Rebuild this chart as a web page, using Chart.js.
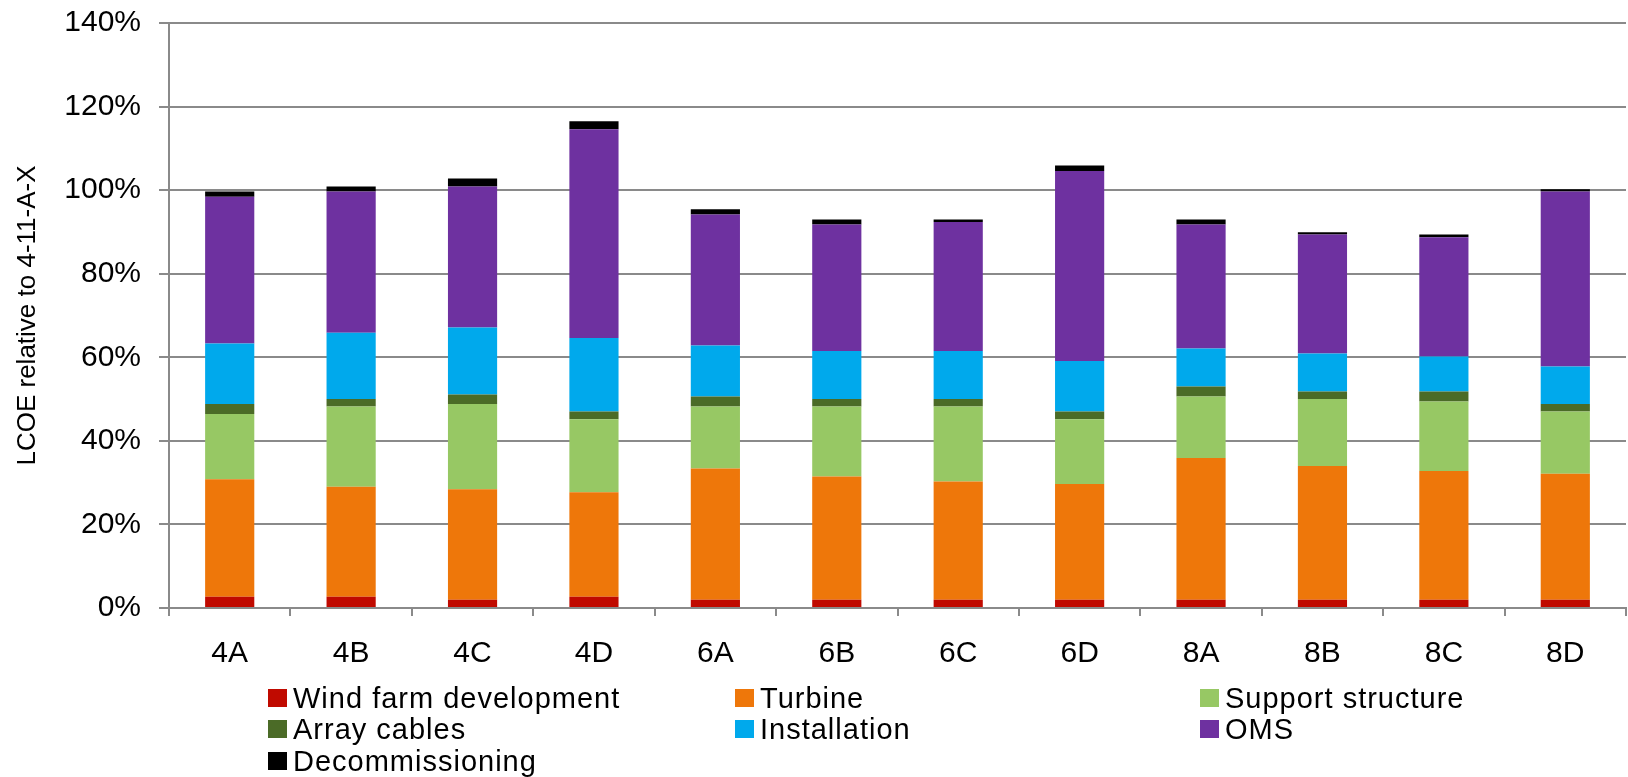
<!DOCTYPE html>
<html>
<head>
<meta charset="utf-8">
<script src="https://cdn.jsdelivr.net/npm/chart.js@4"></script>
<style>
  html, body { margin: 0; padding: 0; background: #fff; }
  #wrap { position: relative; width: 1628px; height: 777px; }
  #legend { position: absolute; left: 0; top: 0; width: 1628px; height: 777px; pointer-events: none;
            font-family: "Liberation Sans", Arial, sans-serif; font-size: 29px; color: #000; letter-spacing: 1px; }
  .item { position: absolute; display: flex; align-items: center; height: 32px; white-space: nowrap; }
  .box { width: 19px; height: 18px; margin-right: 6px; flex: none; }
</style>
</head>
<body>
<div id="wrap">
  <canvas id="c" width="1628" height="777"></canvas>
  <div id="legend"></div>
</div>
<script>
const categories = ["4A","4B","4C","4D","6A","6B","6C","6D","8A","8B","8C","8D"];
const windFarmDevelopment = [2.7, 2.7, 2.0, 2.7, 2.0, 2.0, 2.0, 2.0, 2.0, 2.0, 2.0, 2.0];
const turbine             = [28.1, 26.3, 26.4, 25.0, 31.4, 29.5, 28.3, 27.7, 33.9, 32.0, 30.8, 30.1];
const supportStructure    = [15.6, 19.2, 20.4, 17.5, 14.8, 16.7, 17.9, 15.5, 14.7, 16.0, 16.6, 14.9];
const arrayCables         = [2.4, 1.8, 2.3, 1.8, 2.4, 1.8, 1.8, 1.8, 2.4, 1.8, 2.4, 1.8];
const installation        = [14.5, 15.9, 16.0, 17.6, 12.2, 11.5, 11.5, 12.1, 9.1, 9.1, 8.4, 9.0];
const oms                 = [35.1, 33.8, 33.8, 50.0, 31.4, 30.3, 30.9, 45.5, 29.7, 28.5, 28.5, 41.9];
const decommissioning     = [1.3, 1.2, 1.9, 1.9, 1.2, 1.2, 0.6, 1.3, 1.2, 0.5, 0.7, 0.5];
const yTicks = [0, 20, 40, 60, 80, 100, 120, 140];

const seriesNames = ["Wind farm development","Turbine","Support structure","Array cables","Installation","OMS","Decommissioning"];
const seriesData = [windFarmDevelopment, turbine, supportStructure, arrayCables, installation, oms, decommissioning];
const seriesColors = ["#C00A00","#EE770A","#97C864","#4B6B27","#00A9EC","#6E31A0","#000000"];

const FONT = "'Liberation Sans', Arial, sans-serif";
const GRID = "#8a8a8a";

const chart = new Chart(document.getElementById('c'), {
  type: 'bar',
  data: {
    labels: categories,
    datasets: seriesNames.map((n, i) => ({
      label: n,
      data: seriesData[i],
      backgroundColor: seriesColors[i],
      borderWidth: 0,
      barPercentage: 0.405,
      categoryPercentage: 1.0
    }))
  },
  options: {
    responsive: false,
    animation: false,
    devicePixelRatio: 1,
    layout: { padding: { left: 0, right: 2, top: 23, bottom: 0 } },
    plugins: { legend: { display: false }, tooltip: { enabled: false } },
    scales: {
      x: {
        stacked: true,
        offset: true,
        grid: { display: true, drawOnChartArea: false, drawTicks: true, tickLength: 8, color: GRID, lineWidth: 2, offset: true },
        border: { display: true, color: GRID, width: 2 },
        ticks: { color: "#000", font: { family: FONT, size: 30 }, padding: 20, maxRotation: 0 },
        afterFit: (s) => { s.height = 169; s.paddingLeft = 0; s.paddingRight = 0; }
      },
      y: {
        stacked: true,
        min: 0, max: 140,
        afterBuildTicks: (s) => { s.ticks = yTicks.map(v => ({ value: v })); },
        grid: { color: GRID, lineWidth: 2, drawTicks: true, tickLength: 10 },
        border: { display: true, color: GRID, width: 2 },
        ticks: { color: "#000", font: { family: FONT, size: 30 }, padding: 18, callback: (v) => v + "%" },
        title: { display: true, text: "LCOE relative to 4-11-A-X", color: "#000", font: { family: FONT, size: 26 }, padding: { top: 12, bottom: 0 } },
        afterFit: (s) => { s.width = 169; s.paddingTop = 0; s.paddingBottom = 0; }
      }
    }
  }
});

// HTML legend built from the chart datasets, 3 columns
const legend = document.getElementById('legend');
const colX = [268, 735, 1200];
const rowY = [682, 713, 745];
chart.data.datasets.forEach((ds, i) => {
  const it = document.createElement('div');
  it.className = 'item';
  it.style.left = colX[i % 3] + 'px';
  it.style.top = rowY[Math.floor(i / 3)] + 'px';
  const b = document.createElement('span');
  b.className = 'box';
  b.style.background = ds.backgroundColor;
  const t = document.createElement('span');
  t.textContent = ds.label;
  it.appendChild(b); it.appendChild(t);
  legend.appendChild(it);
});
</script>
</body>
</html>
